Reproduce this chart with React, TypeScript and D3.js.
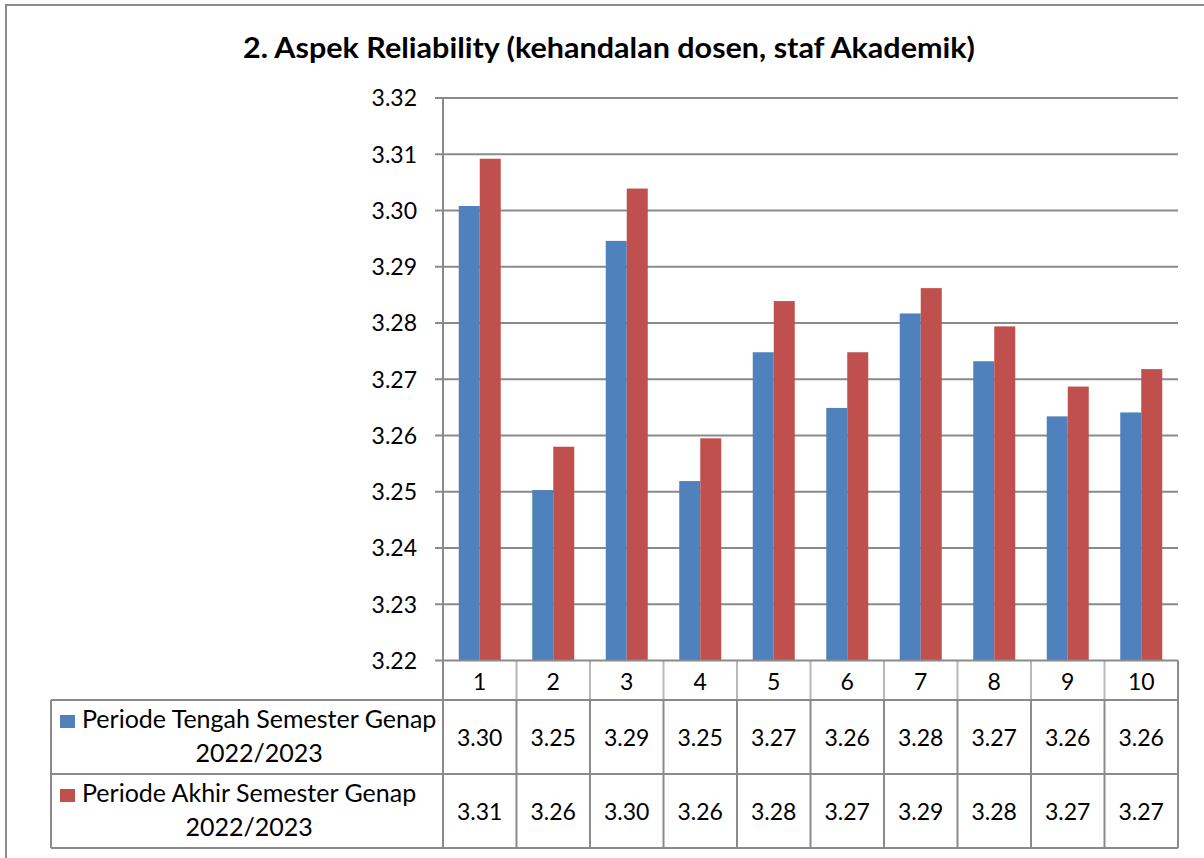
import React, { useEffect, useRef } from "react";
import * as d3 from "d3";

const title = "2. Aspek Reliability (kehandalan dosen, staf Akademik)";
const categories = ["1", "2", "3", "4", "5", "6", "7", "8", "9", "10"];
const seriesNames = ["Periode Tengah Semester Genap", "Periode Akhir Semester Genap"];
const seriesYear = ["2022/2023", "2022/2023"];
const tengahValues = [3.3008, 3.2503, 3.2946, 3.2519, 3.2748, 3.2649, 3.2817, 3.2732, 3.2634, 3.2641];
const akhirValues = [3.3092, 3.258, 3.3039, 3.2595, 3.2839, 3.2748, 3.2862, 3.2794, 3.2687, 3.2718];
const yTicks = [3.22, 3.23, 3.24, 3.25, 3.26, 3.27, 3.28, 3.29, 3.3, 3.31, 3.32];
const colors = ["#4F81BD", "#C0504D"];

const W = 1204;
const H = 858;
const FONT = "Lato, 'Open Sans', sans-serif";

export default function App() {
  const ref = useRef<SVGSVGElement>(null);

  useEffect(() => {
    const svg = d3.select(ref.current);
    svg.selectAll("*").remove();

    const plotL = 443, plotR = 1178, plotT = 98, plotB = 660.5;
    const tableL = 51;
    const headerB = 700, row1B = 774, row2B = 848;
    const gridColor = "#8a8a8a";

    const x = d3.scaleBand<string>().domain(categories).range([plotL, plotR]).padding(0);
    const xi = d3.scaleBand<number>().domain([0, 1]).range([0, x.bandwidth()]).paddingInner(0).paddingOuter(0.75);
    const y = d3.scaleLinear().domain([3.22, 3.32]).range([plotB, plotT]);

    // outer frame
    svg.append("path").attr("d", `M6,${H} L6,5 L${W},5`).attr("fill", "none").attr("stroke", "#8c8c8c").attr("stroke-width", 2);

    // title
    const tt = svg.append("text").attr("x", 609).attr("y", 58).attr("text-anchor", "middle")
      .attr("font-family", FONT).attr("font-weight", "bold").attr("font-size", 29).attr("fill", "#000").text(title);
    const tw = (tt.node() as SVGTextElement).getComputedTextLength();
    if (tw > 0) tt.attr("textLength", 732).attr("lengthAdjust", "spacingAndGlyphs");

    // gridlines + ticks
    const g = svg.append("g");
    yTicks.forEach((t) => {
      g.append("line").attr("x1", plotL - 8).attr("x2", t === 3.22 ? plotL : plotR)
        .attr("y1", y(t)).attr("y2", y(t)).attr("stroke", gridColor).attr("stroke-width", 2);
      g.append("text").attr("x", 417).attr("y", y(t)).attr("dy", "0.36em").attr("text-anchor", "end")
        .attr("font-family", FONT).attr("font-size", 23).attr("fill", "#000").text(d3.format(".2f")(t));
    });

    // bars
    const series = [tengahValues, akhirValues];
    series.forEach((vals, si) => {
      svg.append("g").selectAll("rect").data(vals).join("rect")
        .attr("x", (_, i) => (x(categories[i]) as number) + (xi(si) as number))
        .attr("width", xi.bandwidth())
        .attr("y", (d) => y(d))
        .attr("height", (d) => y(3.22) - y(d))
        .attr("fill", colors[si]);
    });

    // table lines
    const tg = svg.append("g");
    categories.forEach((c, i) => {
      if (i > 0) {
        tg.append("line").attr("x1", x(c)).attr("x2", x(c)).attr("y1", plotB).attr("y2", headerB)
          .attr("stroke", "#b8b8b8").attr("stroke-width", 2);
      }
      tg.append("line").attr("x1", x(c)).attr("x2", x(c)).attr("y1", headerB).attr("y2", row2B)
        .attr("stroke", gridColor).attr("stroke-width", 2);
    });
    tg.append("line").attr("x1", plotR).attr("x2", plotR).attr("y1", plotB).attr("y2", row2B).attr("stroke", gridColor).attr("stroke-width", 2);
    tg.append("line").attr("x1", plotL).attr("x2", plotL).attr("y1", plotT).attr("y2", row2B).attr("stroke", gridColor).attr("stroke-width", 2);
    tg.append("line").attr("x1", plotL).attr("x2", plotR).attr("y1", plotB).attr("y2", plotB).attr("stroke", gridColor).attr("stroke-width", 2);
    [headerB, row1B, row2B].forEach((yy) => {
      tg.append("line").attr("x1", tableL).attr("x2", plotR).attr("y1", yy).attr("y2", yy).attr("stroke", gridColor).attr("stroke-width", 2);
    });
    tg.append("line").attr("x1", tableL).attr("x2", tableL).attr("y1", headerB).attr("y2", row2B).attr("stroke", gridColor).attr("stroke-width", 2);

    // category labels
    categories.forEach((c) => {
      tg.append("text").attr("x", (x(c) as number) + x.bandwidth() / 2).attr("y", (plotB + headerB) / 2 + 1)
        .attr("dy", "0.36em").attr("text-anchor", "middle").attr("font-family", FONT).attr("font-size", 23).attr("fill", "#000").text(c);
    });

    // values + legend
    const rowTops = [headerB, row1B];
    const rowBots = [row1B, row2B];
    series.forEach((vals, si) => {
      const cy = (rowTops[si] + rowBots[si]) / 2 + 1;
      vals.forEach((v, i) => {
        tg.append("text").attr("x", (x(categories[i]) as number) + x.bandwidth() / 2).attr("y", cy)
          .attr("dy", "0.36em").attr("text-anchor", "middle").attr("font-family", FONT).attr("font-size", 23).attr("fill", "#000")
          .text(d3.format(".2f")(v));
      });
      tg.append("rect").attr("x", 60).attr("y", rowTops[si] + 15).attr("width", 15).attr("height", 13).attr("fill", colors[si]);
      const t1 = tg.append("text").attr("x", 82).attr("y", rowTops[si] + 28).attr("font-family", FONT).attr("font-size", 25)
        .attr("fill", "#000").text(seriesNames[si]);
      const w = (t1.node() as SVGTextElement).getComputedTextLength();
      tg.append("text").attr("x", 82 + w / 2).attr("y", rowTops[si] + 61.5).attr("text-anchor", "middle")
        .attr("font-family", FONT).attr("font-size", 25).attr("fill", "#000").text(seriesYear[si]);
    });
  }, []);

  return (
    <svg ref={ref} width={W} height={H} style={{ position: "absolute", left: 0, top: 0, display: "block", background: "#fff" }} />
  );
}
